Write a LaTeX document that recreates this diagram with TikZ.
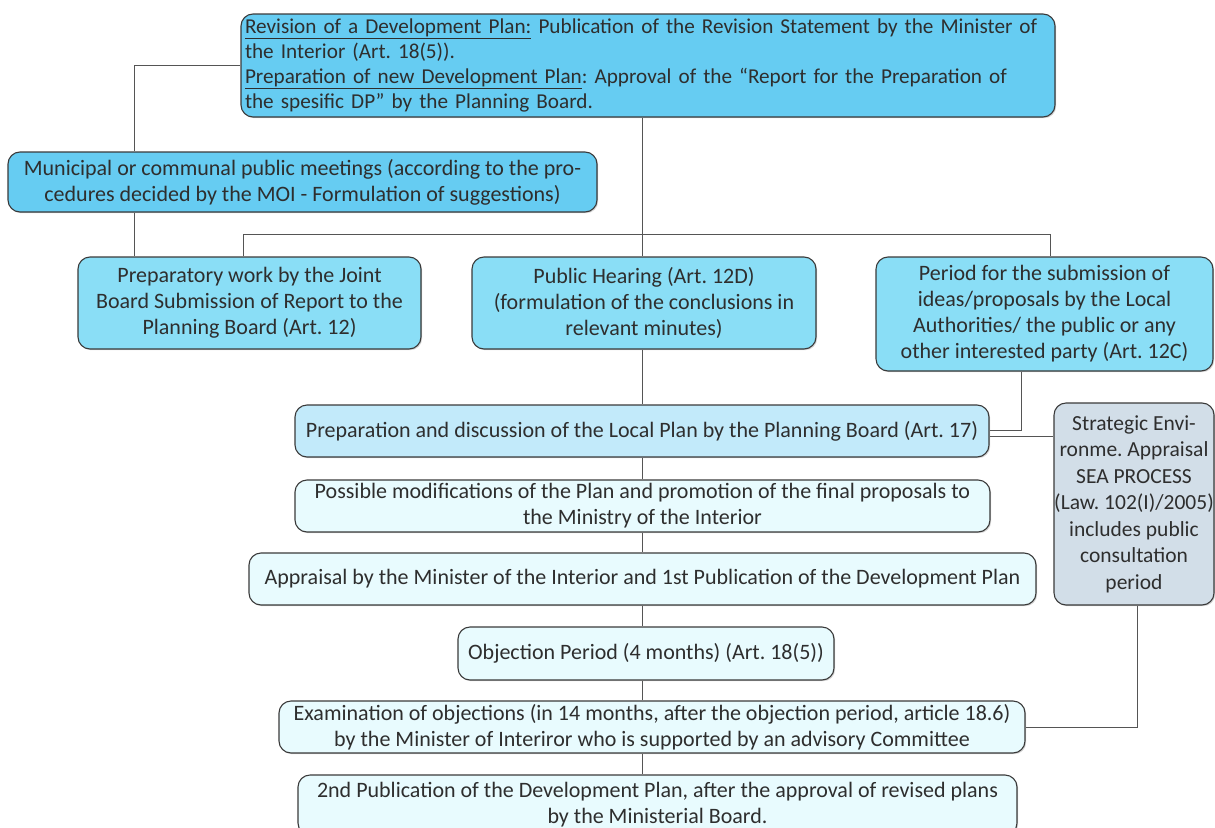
\documentclass[tikz,border=0pt]{standalone}
\usepackage{fontspec}
\setmainfont{Carlito}
\frenchspacing
\usetikzlibrary{shadows}
\definecolor{cDeep}{HTML}{66CCF2}
\definecolor{cMid}{HTML}{8ADEF6}
\definecolor{cSoft}{HTML}{C2EAFA}
\definecolor{cPale}{HTML}{E8FBFE}
\definecolor{cSea}{HTML}{D2DEE8}
\definecolor{cEdge}{HTML}{3A3A3A}
\definecolor{cLink}{HTML}{555555}
\definecolor{cInk}{HTML}{2E2E2E}
\begin{document}
\begin{tikzpicture}[x=1pt,y=-1pt,
  box/.style={draw=cEdge, line width=1.1pt, rounded corners=12pt, inner sep=2pt,
    font=\fontsize{22}{26}\selectfont, align=center, text=cInk,
    drop shadow={shadow xshift=1.2pt, shadow yshift=-1.2pt, opacity=0.35}},
  link/.style={draw=cLink, line width=1pt}]
\useasboundingbox (0,0) rectangle (1215,827);

% header box
\node[box, fill=cDeep, minimum width=814pt, minimum height=103pt, text width=806pt, align=left,
      font=\fontsize{21.2}{25.3}\selectfont]
  (head) at (648,65.5)
  {\underline{Revision of a Development Plan:} Publication of the Revision Statement by the Minister of\\
   the Interior (Art. 18(5)).\\
   \underline{Preparation of new Development Plan}: Approval of the ``Report for the Preparation of\\
   the spesific DP'' by the Planning Board.};

\node[box, fill=cDeep, minimum width=589pt, minimum height=60pt] (muni) at (302.5,182)
  {Municipal or communal public meetings (according to the pro-\\cedures decided by the MOI - Formulation of suggestions)};

% three parallel branches
\node[box, fill=cMid, minimum width=343pt, minimum height=92pt] (prep) at (249.5,303)
  {Preparatory work by the Joint\\Board Submission of Report to the\\Planning Board (Art. 12)};
\node[box, fill=cMid, minimum width=344pt, minimum height=92pt] (hear) at (644,303)
  {Public Hearing (Art. 12D)\\(formulation of the conclusions in\\relevant minutes)};
\node[box, fill=cMid, minimum width=337pt, minimum height=114pt] (ideas) at (1044.5,314)
  {Period for the submission of\\ideas/proposals by the Local\\Authorities/ the public or any\\other interested party (Art. 12C)};

% main sequence
\node[box, fill=cSoft, minimum width=694pt, minimum height=52pt] (local) at (642,431)
  {Preparation and discussion of the Local Plan by the Planning Board (Art. 17)};
\node[box, fill=cPale, minimum width=695pt, minimum height=52pt] (modif) at (642.5,506)
  {Possible modifications of the Plan and promotion of the final proposals to\\the Ministry of the Interior};
\node[box, fill=cPale, minimum width=787pt, minimum height=52pt] (appr) at (642.5,579)
  {Appraisal by the Minister of the Interior and 1st Publication of the Development Plan};
\node[box, fill=cPale, minimum width=376pt, minimum height=53pt] (objp) at (646,653.5)
  {Objection Period (4 months) (Art. 18(5))};
\node[box, fill=cPale, minimum width=746pt, minimum height=52pt] (exam) at (652,727)
  {Examination of objections (in 14 months, after the objection period, article 18.6)\\by the Minister of Interiror who is supported by an advisory Committee};
\node[box, fill=cPale, minimum width=719pt, minimum height=60pt] (publ) at (657.5,805)
  {2nd Publication of the Development Plan, after the approval of revised plans\\by the Ministerial Board.};

% strategic environmental assessment
\node[box, fill=cSea, minimum width=160pt, minimum height=202pt, inner sep=0pt,
      font=\fontsize{21.5}{26.5}\selectfont] (sea) at (1134,504)
  {Strategic Envi-\\ronme. Appraisal\\SEA PROCESS\\(Law. 102(I)/2005)\\includes public\\consultation\\period};

% guide coordinates for the connector routes
\coordinate (lx) at (134,0);
\coordinate (sp) at (642,0);
\coordinate (bus) at (0,234);
\coordinate (bl) at (243,0);
\coordinate (br) at (1050,0);
\coordinate (ix) at (1021,0);
\coordinate (iy) at (0,430);
\coordinate (sx) at (1137,0);

% connectors
\draw[link] (head.west) -| (muni.north -| lx);
\draw[link] (muni.south -| lx) -- (prep.north -| lx);
\draw[link] (head.south -| sp) -- (bus -| sp);
\draw[link] (prep.north -| bl) -- (bus -| bl) -- (bus -| br) -- (ideas.north -| br);
\draw[link] (bus -| sp) -- (hear.north -| sp);
\draw[link] (hear.south -| sp) -- (local.north -| sp);
\draw[link] (ideas.south -| ix) -- (iy -| ix) -- (iy -| local.east);
\draw[link] (local.east |- 0,436) -- (sea.west |- 0,436);
\draw[link] (local.south -| sp) -- (modif.north -| sp);
\draw[link] (modif.south -| sp) -- (appr.north -| sp);
\draw[link] (appr.south -| sp) -- (objp.north -| sp);
\draw[link] (objp.south -| sp) -- (exam.north -| sp);
\draw[link] (exam.south -| sp) -- (publ.north -| sp);
\draw[link] (sea.south -| sx) -- (exam.east -| sx) -- (exam.east);
\end{tikzpicture}
\end{document}
